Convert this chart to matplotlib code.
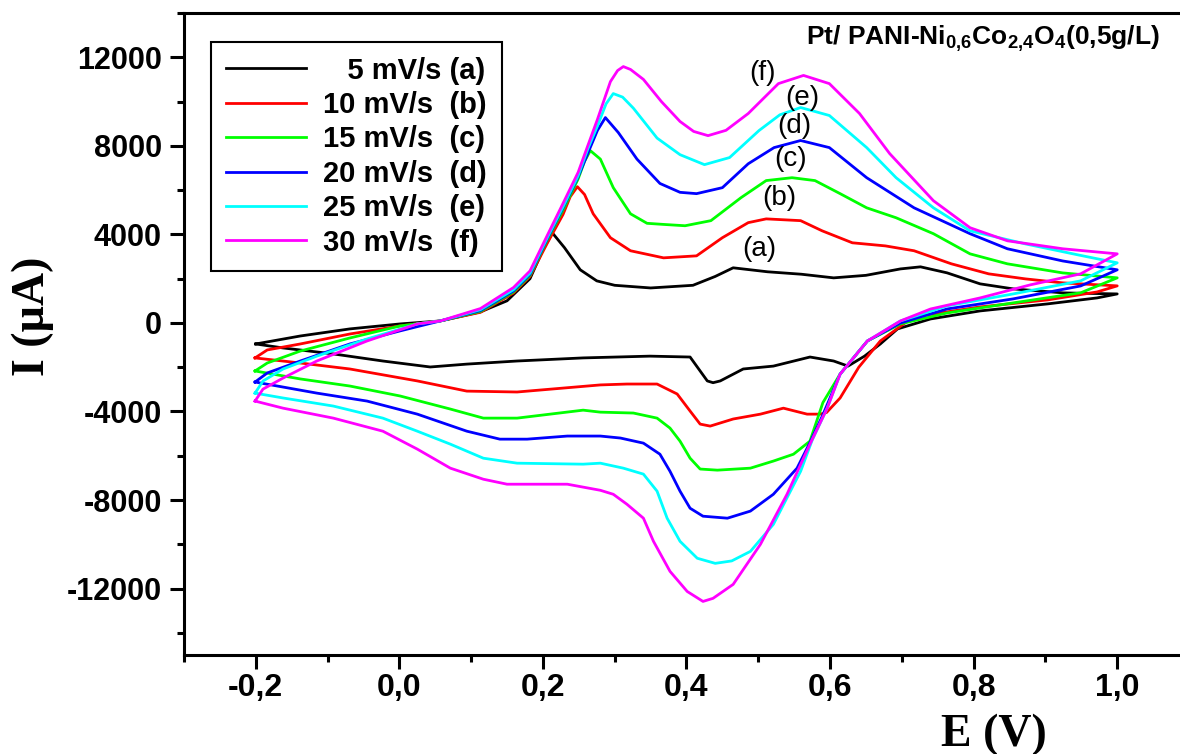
import matplotlib
matplotlib.use("Agg")
import matplotlib.pyplot as plt
from matplotlib.ticker import MultipleLocator, FuncFormatter

# Cyclic voltammograms of Pt/PANI-Ni0,6Co2,4O4
# each curve: forward scan -0.2 -> 1.0 V, then back to -0.2 V
E_a = [-0.200, -0.138, -0.069, 0.001, 0.057, 0.113, 0.150, 0.182, 0.200, 0.213,
       0.230, 0.252, 0.275, 0.300, 0.350, 0.409, 0.440, 0.465, 0.513, 0.560,
       0.605, 0.650, 0.698, 0.726, 0.763, 0.809, 0.855, 0.925, 1.000,
       0.972, 0.903, 0.809, 0.740, 0.694, 0.670, 0.648, 0.625, 0.605, 0.572,
       0.521, 0.479, 0.447, 0.437, 0.429, 0.405, 0.349, 0.256, 0.164, 0.094,
       0.043, -0.023, -0.092, -0.162, -0.200]
I_a = [-950, -590, -270, -45, 90, 500, 1000, 2000, 3300, 4073,
       3400, 2400, 1900, 1700, 1580, 1700, 2100, 2490, 2310, 2200,
       2036, 2150, 2440, 2534, 2262, 1765, 1538, 1357, 1310,
       1130, 860, 543, 180, -270, -950, -1500, -1950, -1720, -1540,
       -1950, -2080, -2620, -2700, -2620, -1540, -1500, -1580, -1720, -1860,
       -1990, -1720, -1400, -1130, -950]

E_b = [-0.201, -0.184, -0.138, -0.069, 0.001, 0.057, 0.113, 0.159, 0.182, 0.206,
       0.228, 0.238, 0.248, 0.258, 0.270, 0.294, 0.322, 0.368, 0.414, 0.450,
       0.486, 0.511, 0.559, 0.589, 0.631, 0.677, 0.717, 0.769, 0.821, 0.872,
       0.924, 1.000,
       0.972, 0.903, 0.809, 0.716, 0.670, 0.640, 0.614, 0.595, 0.586, 0.568,
       0.535, 0.503, 0.465, 0.433, 0.419, 0.405, 0.387, 0.359, 0.317, 0.280,
       0.164, 0.094, 0.025, -0.069, -0.138, -0.201]
I_b = [-1580, -1220, -950, -500, -135, 90, 480, 1350, 2100, 3600,
       4900, 5700, 6154, 5800, 4930, 3850, 3260, 2940, 3030, 3850,
       4530, 4700, 4620, 4160, 3620, 3480, 3260, 2670, 2217, 1990,
       1810, 1674,
       1400, 1040, 724, 270, -815, -2000, -3390, -4050, -4120, -4120,
       -3850, -4120, -4340, -4660, -4570, -3980, -3210, -2760, -2760, -2800,
       -3120, -3080, -2620, -2080, -1810, -1580]

E_c = [-0.201, -0.184, -0.138, -0.069, 0.001, 0.057, 0.113, 0.159, 0.182, 0.206,
       0.228, 0.249, 0.258, 0.266, 0.280, 0.298, 0.322, 0.345, 0.368, 0.398,
       0.434, 0.476, 0.511, 0.547, 0.579, 0.614, 0.651, 0.692, 0.744, 0.795,
       0.847, 0.924, 1.000,
       0.949, 0.855, 0.763, 0.698, 0.652, 0.614, 0.590, 0.572, 0.549, 0.521,
       0.489, 0.443, 0.419, 0.405, 0.391, 0.377, 0.359, 0.326, 0.280, 0.256,
       0.164, 0.117, 0.071, 0.001, -0.069, -0.138, -0.201]
I_c = [-2170, -1810, -1270, -680, -135, 90, 520, 1400, 2150, 3750,
       5100, 6500, 7300, 7783, 7400, 6110, 4930, 4500, 4450, 4390,
       4620, 5660, 6430, 6560, 6430, 5840, 5200, 4750, 4030, 3120,
       2670, 2260, 2036,
       1360, 905, 450, -45, -815, -2310, -3600, -5340, -5930, -6240,
       -6560, -6650, -6600, -6110, -5340, -4750, -4300, -4070, -4030, -3940,
       -4300, -4300, -3890, -3300, -2850, -2530, -2170]

E_d = [-0.201, -0.184, -0.138, -0.069, 0.001, 0.057, 0.113, 0.159, 0.182, 0.206,
       0.228, 0.249, 0.263, 0.276, 0.287, 0.305, 0.331, 0.363, 0.391, 0.414,
       0.450, 0.486, 0.522, 0.559, 0.599, 0.651, 0.717, 0.795, 0.847, 0.924,
       1.000,
       0.949, 0.855, 0.763, 0.698, 0.652, 0.614, 0.590, 0.572, 0.554, 0.521,
       0.489, 0.457, 0.423, 0.405, 0.391, 0.377, 0.363, 0.340, 0.308, 0.280,
       0.234, 0.178, 0.140, 0.094, 0.025, -0.045, -0.115, -0.170, -0.201]
I_d = [-2670, -2260, -1720, -950, -360, 90, 560, 1450, 2200, 3800,
       5200, 6600, 7700, 8700, 9276, 8600, 7400, 6300, 5900, 5840,
       6110, 7190, 7920, 8240, 7920, 6560, 5200, 4030, 3350, 2800,
       2400,
       1670, 1086, 630, 0, -815, -2310, -4150, -5400, -6560, -7740,
       -8500, -8820, -8730, -8370, -7600, -6700, -5930, -5430, -5200, -5110,
       -5110, -5250, -5250, -4890, -4120, -3530, -3170, -2850, -2670]

E_e = [-0.201, -0.190, -0.162, -0.115, -0.045, 0.025, 0.057, 0.113, 0.159, 0.182,
       0.206, 0.228, 0.249, 0.263, 0.276, 0.288, 0.298, 0.311, 0.326, 0.359,
       0.391, 0.425, 0.460, 0.501, 0.530, 0.559, 0.599, 0.651, 0.692, 0.744,
       0.795, 0.872, 0.949, 1.000,
       0.949, 0.855, 0.763, 0.698, 0.652, 0.614, 0.596, 0.575, 0.559, 0.540,
       0.521, 0.489, 0.463, 0.440, 0.415, 0.391, 0.373, 0.359, 0.340, 0.312,
       0.280, 0.256, 0.164, 0.117, 0.071, 0.025, -0.023, -0.092, -0.162, -0.201]
I_e = [-3170, -2625, -2080, -1500, -725, -45, 90, 600, 1500, 2250,
       3850, 5250, 6650, 7900, 8900, 9900, 10360, 10200, 9700, 8350,
       7600, 7150, 7470, 8690, 9400, 9730, 9370, 7920, 6560, 5200,
       4160, 3570, 3050, 2715,
       1900, 1310, 770, 90, -815, -2310, -3850, -5300, -6700, -7900,
       -9100, -10320, -10750, -10860, -10630, -9865, -8820, -7600, -6830, -6560,
       -6335, -6380, -6335, -6110, -5475, -4890, -4300, -3755, -3390, -3170]

E_f = [-0.201, -0.190, -0.162, -0.115, -0.045, 0.025, 0.057, 0.113, 0.159, 0.182,
       0.206, 0.228, 0.249, 0.263, 0.276, 0.294, 0.304, 0.312, 0.322, 0.340,
       0.365, 0.391, 0.410, 0.430, 0.455, 0.486, 0.528, 0.563, 0.599, 0.641,
       0.683, 0.744, 0.795, 0.847, 0.924, 1.000,
       0.949, 0.879, 0.809, 0.740, 0.698, 0.652, 0.614, 0.596, 0.572, 0.540,
       0.503, 0.465, 0.437, 0.423, 0.401, 0.377, 0.354, 0.340, 0.317, 0.298,
       0.280, 0.234, 0.150, 0.117, 0.071, 0.025, -0.023, -0.092, -0.162, -0.201]
I_f = [-3530, -2990, -2490, -1720, -815, -45, 90, 650, 1600, 2350,
       3950, 5400, 6800, 8050, 9200, 10900, 11400, 11580, 11450, 11000,
       10000, 9100, 8650, 8460, 8700, 9460, 10810, 11180, 10810, 9460,
       7650, 5520, 4300, 3710, 3350, 3120,
       2217, 1720, 1130, 630, 90, -815, -2310, -3850, -5475, -7740,
       -10000, -11810, -12440, -12580, -12130, -11220, -9865, -8820, -8190, -7740,
       -7560, -7285, -7285, -7060, -6560, -5700, -4890, -4300, -3850, -3530]

legend_labels = ["   5 mV/s (a)", "10 mV/s  (b)", "15 mV/s  (c)",
                 "20 mV/s  (d)", "25 mV/s  (e)", "30 mV/s  (f)"]
curve_tags = ["(a)", "(b)", "(c)", "(d)", "(e)", "(f)"]
tag_E = [0.501, 0.529, 0.545, 0.550, 0.561, 0.506]
tag_I = [3350, 5650, 7420, 8910, 10180, 11310]

x_major = [-0.2, 0.0, 0.2, 0.4, 0.6, 0.8, 1.0]
y_major = [-12000, -8000, -4000, 0, 4000, 8000, 12000]

colors = ["black", "#ff0000", "#00ff00", "#0000ff", "#00ffff", "#ff00ff"]

plt.rcParams["font.family"] = ["Liberation Sans", "DejaVu Sans"]
plt.rcParams["mathtext.default"] = "regular"

W, H = 1180, 754
fig = plt.figure(figsize=(W / 100, H / 100), dpi=100)
ax = fig.add_axes([184 / W, 1 - 655 / H, 1005 / W, 642 / H])

curves = [(E_a, I_a), (E_b, I_b), (E_c, I_c), (E_d, I_d), (E_e, I_e), (E_f, I_f)]
for (E, I), col, lab in zip(curves, colors, legend_labels):
    ax.plot(E, I, color=col, lw=2.0, label=lab, solid_joinstyle="round")

for t, xe, yi in zip(curve_tags, tag_E, tag_I):
    ax.text(xe, yi, t, fontsize=20, ha="center", va="center")

ax.set_xlim(-0.3, 1.1)
ax.set_ylim(-15000, 14000)
ax.set_xticks(x_major)
ax.set_yticks(y_major)
ax.xaxis.set_minor_locator(MultipleLocator(0.1))
ax.yaxis.set_minor_locator(MultipleLocator(2000))
ax.xaxis.set_major_formatter(FuncFormatter(lambda v, p: f"{v:.1f}".replace(".", ",")))
ax.yaxis.set_major_formatter(FuncFormatter(lambda v, p: f"{int(round(v))}"))

for s in ["left", "bottom", "top"]:
    ax.spines[s].set_linewidth(2.2)
ax.spines["right"].set_visible(False)
ax.tick_params(which="both", direction="out", width=2.2, top=False, right=False)
ax.tick_params(which="major", length=10)
ax.tick_params(which="minor", length=5)
ax.tick_params(axis="x", pad=3)
ax.tick_params(axis="y", pad=6)
for lbl in ax.get_xticklabels():
    lbl.set_fontsize(23)
    lbl.set_fontweight("bold")
for lbl in ax.get_yticklabels():
    lbl.set_fontsize(22)
    lbl.set_fontweight("bold")

leg = ax.legend(loc="upper left", bbox_to_anchor=(211 / W, 1 - 42 / H),
                bbox_transform=fig.transFigure, borderaxespad=0,
                prop={"size": 21, "weight": "bold"}, handlelength=2.75,
                handletextpad=0.6, labelspacing=0.22, borderpad=0.5,
                fancybox=False, framealpha=1)
leg.get_frame().set_edgecolor("black")
leg.get_frame().set_linewidth(1.5)

fig.text(1160 / W, 1 - 45 / H, r"Pt/ PANI-Ni$_{0{,}6}$Co$_{2{,}4}$O$_{4}$(0,5g/L)",
         fontsize=19, fontweight="bold", ha="right", va="baseline")
fig.text(994 / W, 1 - 735 / H, "E (V)", family="Liberation Serif",
         fontsize=33, fontweight="bold", ha="center", va="center")
fig.text(33 / W, 1 - 316 / H, "I (µA)", family="Liberation Serif",
         fontsize=33, fontweight="bold", ha="center", va="center", rotation=90)

fig.savefig("out.png", dpi=100)
